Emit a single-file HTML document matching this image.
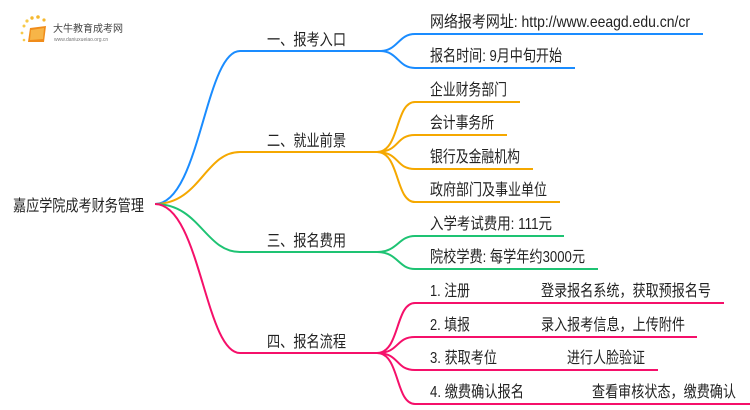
<!DOCTYPE html>
<html><head><meta charset="utf-8"><style>
html,body{margin:0;padding:0;background:#fff;width:750px;height:410px;overflow:hidden}
text{font-family:"Liberation Sans","Noto Sans CJK SC",sans-serif;font-size:16px;fill:#222}
</style></head><body>
<svg width="750" height="410" xmlns="http://www.w3.org/2000/svg">
<g>
<circle cx="24" cy="26" r="1.5" fill="#f7c948"/><circle cx="27" cy="21" r="1.6" fill="#f7c948"/><circle cx="32" cy="18" r="1.7" fill="#f5b82e"/><circle cx="38" cy="17" r="1.8" fill="#f5b82e"/><circle cx="44" cy="20" r="1.6" fill="#f5b82e"/><circle cx="22" cy="33" r="1.4" fill="#f7c948"/><circle cx="24" cy="40" r="1.3" fill="#f7c948"/>
<path d="M30 28 L46 26 L44 42 L28 42 Z" fill="#f08c1a"/><path d="M31 30 L44 28 L43 39 L30 40 Z" fill="#f7b548"/>
<text x="53" y="32" style="font-size:10px;fill:#444">大牛教育成考网</text>
<text x="54" y="41" style="font-size:5px;fill:#777">www.daniuxueiao.org.cn</text>
</g>
<g fill="none" stroke-width="2">
<path d="M155 204 C200 204,205 51,240 51 L380 51" stroke="#1a8cff"/>
<path d="M380 51 C398 51,398 34,415 34 L703 34" stroke="#1a8cff"/>
<path d="M380 51 C398 51,398 68,415 68 L575 68" stroke="#1a8cff"/>
<path d="M155 204 C200 204,205 152,240 152 L380 152" stroke="#f5a800"/>
<path d="M377 152 C400 152,395 102,415 102 L520 102" stroke="#f5a800"/>
<path d="M377 152 C400 152,395 135,415 135 L507 135" stroke="#f5a800"/>
<path d="M377 152 C400 152,395 169,415 169 L533 169" stroke="#f5a800"/>
<path d="M377 152 C400 152,395 202,415 202 L560 202" stroke="#f5a800"/>
<path d="M155 204 C200 204,205 252,240 252 L380 252" stroke="#1ec373"/>
<path d="M377 252 C398 252,398 236,415 236 L564 236" stroke="#1ec373"/>
<path d="M377 252 C398 252,398 269,415 269 L598 269" stroke="#1ec373"/>
<path d="M155 204 C200 204,205 353,240 353 L380 353" stroke="#f5106a"/>
<path d="M377 353 C400 353,395 303,415 303 L724 303" stroke="#f5106a"/>
<path d="M377 353 C400 353,395 337,415 337 L697 337" stroke="#f5106a"/>
<path d="M377 353 C400 353,395 370,415 370 L658 370" stroke="#f5106a"/>
<path d="M377 353 C400 353,395 404,415 404 L750 404" stroke="#f5106a"/>
</g>
<g lengthAdjust="spacingAndGlyphs">
<text x="13" y="211" textLength="131" lengthAdjust="spacingAndGlyphs">嘉应学院成考财务管理</text>
<text x="267" y="45" textLength="79" lengthAdjust="spacingAndGlyphs">一、报考入口</text>
<text x="267" y="146" textLength="79" lengthAdjust="spacingAndGlyphs">二、就业前景</text>
<text x="267" y="246" textLength="79" lengthAdjust="spacingAndGlyphs">三、报名费用</text>
<text x="267" y="347" textLength="79" lengthAdjust="spacingAndGlyphs">四、报名流程</text>
<text x="430" y="27" textLength="260" lengthAdjust="spacingAndGlyphs">网络报考网址: http://www.eeagd.edu.cn/cr</text>
<text x="430" y="61" textLength="132" lengthAdjust="spacingAndGlyphs">报名时间: 9月中旬开始</text>
<text x="430" y="95" textLength="77" lengthAdjust="spacingAndGlyphs">企业财务部门</text>
<text x="430" y="128" textLength="64" lengthAdjust="spacingAndGlyphs">会计事务所</text>
<text x="430" y="162" textLength="90" lengthAdjust="spacingAndGlyphs">银行及金融机构</text>
<text x="430" y="195" textLength="117" lengthAdjust="spacingAndGlyphs">政府部门及事业单位</text>
<text x="430" y="229" textLength="122" lengthAdjust="spacingAndGlyphs">入学考试费用: 111元</text>
<text x="430" y="262" textLength="155" lengthAdjust="spacingAndGlyphs">院校学费: 每学年约3000元</text>
<text x="430" y="296" textLength="40" lengthAdjust="spacingAndGlyphs">1. 注册</text><text x="541" y="296" textLength="170" lengthAdjust="spacingAndGlyphs">登录报名系统，获取预报名号</text>
<text x="430" y="330" textLength="40" lengthAdjust="spacingAndGlyphs">2. 填报</text><text x="541" y="330" textLength="144" lengthAdjust="spacingAndGlyphs">录入报考信息，上传附件</text>
<text x="430" y="363" textLength="67" lengthAdjust="spacingAndGlyphs">3. 获取考位</text><text x="567" y="363" textLength="78" lengthAdjust="spacingAndGlyphs">进行人脸验证</text>
<text x="430" y="397" textLength="94" lengthAdjust="spacingAndGlyphs">4. 缴费确认报名</text><text x="592" y="397" textLength="144" lengthAdjust="spacingAndGlyphs">查看审核状态，缴费确认</text>
</g>
</svg>
</body></html>
